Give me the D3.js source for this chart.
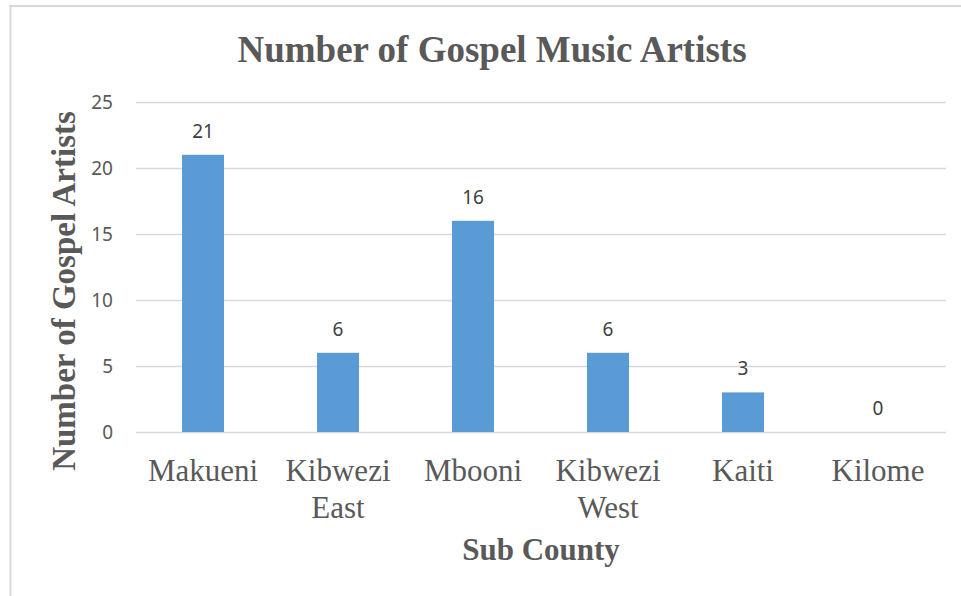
<!DOCTYPE html>
<html><head><meta charset="utf-8">
<script src="https://cdn.jsdelivr.net/npm/d3@7"></script>
<style>html,body{margin:0;padding:0;background:#fff;}</style>
</head><body>
<script>
const categories = ["Makueni", "Kibwezi East", "Mbooni", "Kibwezi West", "Kaiti", "Kilome"];
const values = [21, 6, 16, 6, 3, 0];
const yTicks = [0, 5, 10, 15, 20, 25];
const title = "Number of Gospel Music Artists";
const xTitle = "Sub County";
const yTitle = "Number of Gospel Artists";

const W = 961, H = 596;
const svg = d3.select("body").append("svg").attr("width", W).attr("height", H);

// chart frame
svg.append("line").attr("x1", 9).attr("x2", W).attr("y1", 6).attr("y2", 6)
  .attr("stroke", "#d9d9d9").attr("stroke-width", 2);
svg.append("line").attr("x1", 10.5).attr("x2", 10.5).attr("y1", 5).attr("y2", H)
  .attr("stroke", "#d9d9d9").attr("stroke-width", 2);

const x = d3.scaleBand().domain(categories).range([135.5, 945.5])
  .paddingInner(0.689).paddingOuter(0.3445);
const y = d3.scaleLinear().domain([0, 25]).range([432, 102]);

// gridlines
svg.append("g").selectAll("line").data(yTicks).join("line")
  .attr("x1", 136).attr("x2", 946)
  .attr("y1", d => Math.round(y(d)) + 0.5).attr("y2", d => Math.round(y(d)) + 0.5)
  .attr("stroke", "#d9d9d9").attr("stroke-width", 1.3);

// y axis labels
const yAxis = d3.axisLeft(y).tickValues(yTicks).tickSize(0).tickPadding(0);
const gy = svg.append("g").attr("transform", "translate(113,0)").call(yAxis);
gy.select(".domain").remove();
gy.selectAll("text").attr("font-family", "'Noto Sans', sans-serif").attr("font-size", 19)
  .attr("fill", "#595959").attr("dy", "0.35em");

// bars
svg.append("g").selectAll("rect").data(values).join("rect")
  .attr("x", (d, i) => x(categories[i]))
  .attr("width", x.bandwidth())
  .attr("y", d => y(d))
  .attr("height", d => y(0) - y(d))
  .attr("fill", "#5b9bd5");

// data labels
svg.append("g").selectAll("text").data(values).join("text")
  .attr("x", (d, i) => x(categories[i]) + x.bandwidth() / 2)
  .attr("y", d => y(d) - 17)
  .attr("text-anchor", "middle")
  .attr("font-family", "'Noto Sans', sans-serif").attr("font-size", 19)
  .attr("fill", "#404040")
  .text(d => d);

// x axis category labels
const xAxis = d3.axisBottom(x).tickSize(0).tickPadding(0);
const gx = svg.append("g").attr("transform", "translate(0,432)").call(xAxis);
gx.select(".domain").remove();
gx.selectAll("text").each(function(d) {
  const t = d3.select(this);
  t.text(null).attr("y", 0).attr("dy", null)
    .attr("font-family", "'Liberation Serif', 'Times New Roman', serif")
    .attr("font-size", 31).attr("fill", "#595959");
  d.split(" ").forEach((w, i) => {
    t.append("tspan").attr("x", 0).attr("y", 49 + i * 37).text(w);
  });
});

// title
svg.append("text").attr("x", 492).attr("y", 62).attr("text-anchor", "middle")
  .attr("font-family", "'Liberation Serif', 'Times New Roman', serif")
  .attr("font-weight", "bold").attr("font-size", 37).attr("fill", "#595959")
  .text(title);

// x title
svg.append("text").attr("x", 541).attr("y", 560).attr("text-anchor", "middle")
  .attr("font-family", "'Liberation Serif', 'Times New Roman', serif")
  .attr("font-weight", "bold").attr("font-size", 31).attr("fill", "#595959")
  .text(xTitle);

// y title
svg.append("text").attr("transform", "translate(75,291) rotate(-90)")
  .attr("text-anchor", "middle")
  .attr("font-family", "'Liberation Serif', 'Times New Roman', serif")
  .attr("font-weight", "bold").attr("font-size", 33).attr("fill", "#595959")
  .text(yTitle);
</script>
</body></html>
